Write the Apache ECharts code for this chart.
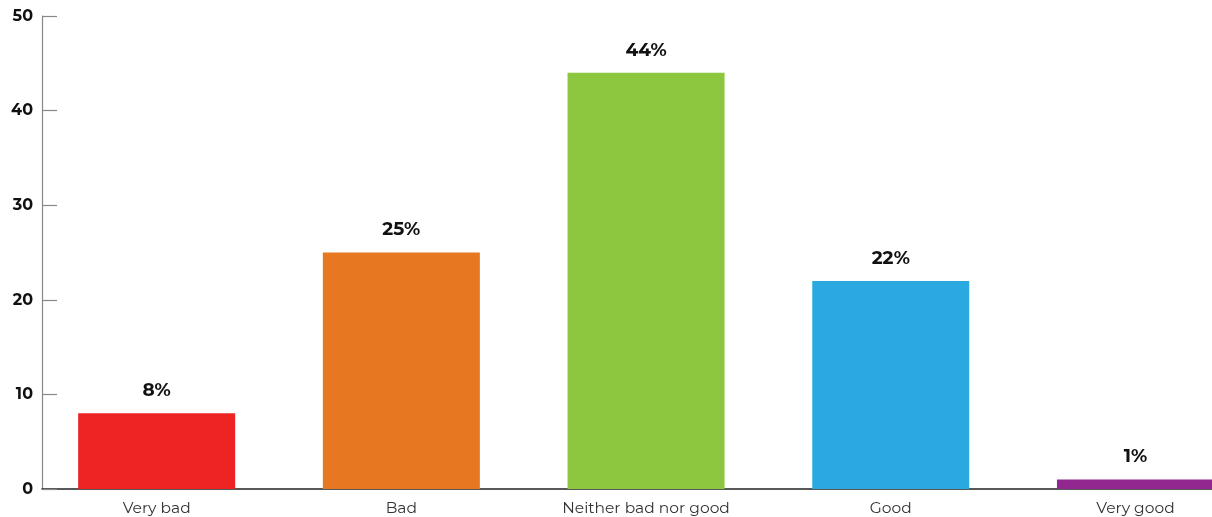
<!DOCTYPE html>
<html><head><meta charset="utf-8">
<script src="https://cdn.jsdelivr.net/npm/echarts@6/dist/echarts.min.js"></script>
<style>html,body{margin:0;padding:0;background:#fff}#c{width:1212px;height:517px}</style>
</head><body><div id="c"></div>
<script>
const categories = ["Very bad", "Bad", "Neither bad nor good", "Good", "Very good"];
const values = [8, 25, 44, 22, 1];
const colors = ["#EE2424", "#E87722", "#8DC63F", "#29A9E0", "#92278F"];
const yTicks = [0, 10, 20, 30, 40, 50];

const chart = echarts.init(document.getElementById('c'));
const font = "Montserrat, 'Noto Sans', sans-serif";
chart.setOption({
  animation: false,
  grid: [
    {left: 34.3, width: 1223.5, top: 16, bottom: 28, outerBoundsMode: 'none', containLabel: false},
    {left: 42, width: 1215.8, top: 16, bottom: 28, outerBoundsMode: 'none', containLabel: false}
  ],
  xAxis: [
    {type: 'category', gridIndex: 0, data: categories,
     axisLine: {show: false}, axisTick: {show: false},
     axisLabel: {color: '#333', fontSize: 15.5, fontFamily: font, margin: 11}},
    {type: 'category', gridIndex: 1, data: categories,
     axisLine: {show: true, lineStyle: {color: '#222', width: 1.5}},
     axisTick: {show: false}, axisLabel: {show: false}}
  ],
  yAxis: [
    {type: 'value', gridIndex: 0, min: yTicks[0], max: yTicks[yTicks.length-1], interval: 10, show: false},
    {type: 'value', gridIndex: 1, min: yTicks[0], max: yTicks[yTicks.length-1], interval: 10,
     axisLine: {show: true, lineStyle: {color: '#888', width: 1.2}},
     axisTick: {show: true, inside: true, length: 15, lineStyle: {color: '#888', width: 1.2}},
     splitLine: {show: false},
     axisLabel: {color: '#111', fontSize: 16, fontWeight: 'bold', fontFamily: font, margin: 9}}
  ],
  series: [{
    type: 'bar', xAxisIndex: 0, yAxisIndex: 0,
    data: values.map((v, i) => ({value: v, itemStyle: {color: colors[i]}})),
    barWidth: 157,
    label: {show: true, position: 'top', distance: 13, formatter: '{c}%',
      color: '#111', fontSize: 18.5, fontWeight: 'bold', fontFamily: font}
  }]
});
</script></body></html>
